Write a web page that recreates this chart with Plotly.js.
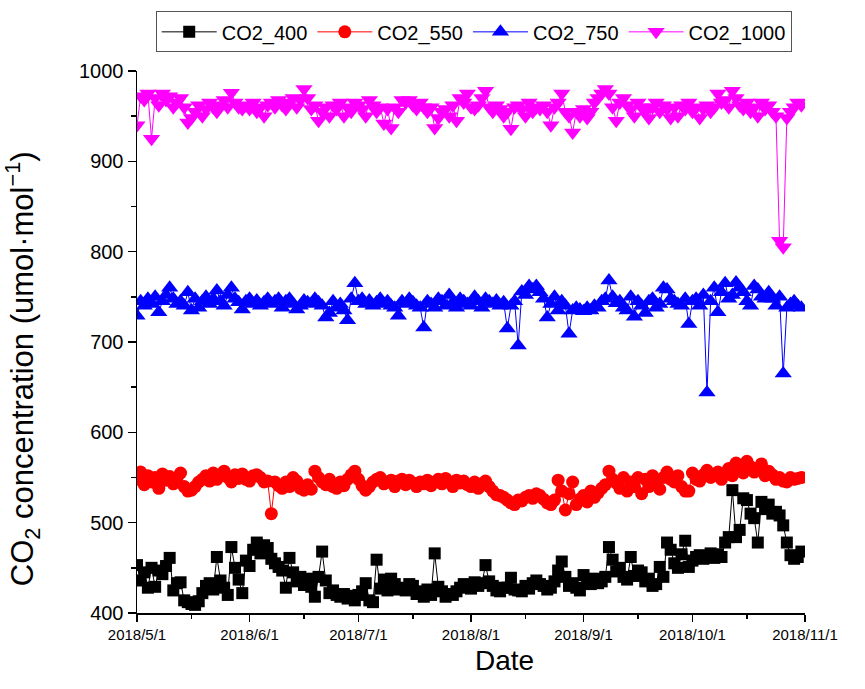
<!DOCTYPE html>
<html>
<head>
<meta charset="utf-8">
<script src="https://cdn.plot.ly/plotly-3.0.1.min.js"></script>
<style>html,body{margin:0;padding:0;background:#fff;}#chart{width:865px;height:689px;}</style>
</head>
<body>
<div id="chart"></div>
<script>
// Daily dates 2018-05-01 .. 2018-10-31
const startDate = '2018-05-01';
const nDays = 184;

const co2_400 = [
453,436,445,428,450,429,447,443,452,461,
425,433,434,414,412,410,409,413,422,430,
433,426,462,436,428,420,473,450,437,422,
458,452,470,478,466,475,472,460,455,451,
447,428,461,445,435,440,431,438,429,418,
440,468,436,422,425,420,418,421,416,419,
414,420,424,433,414,412,459,427,437,425,
438,432,426,428,425,432,430,421,424,418,
426,420,466,429,424,418,421,420,424,428,
432,430,427,434,430,433,453,435,430,425,
424,428,428,439,426,425,424,430,427,433,
436,432,430,426,428,435,447,457,440,430,
433,428,425,442,436,432,438,433,435,440,
473,459,446,450,440,437,462,441,447,445,
435,438,430,432,451,440,478,470,455,450,
465,480,451,458,462,464,460,463,466,461,
465,462,478,484,536,484,492,527,525,510,
505,478,523,515,520,510,512,508,497,478,
464,460,462,468];

const co2_550 = [
548,556,542,552,545,550,538,554,547,551,
543,549,555,540,535,536,540,545,548,552,
546,555,548,553,557,550,545,553,549,554,
548,546,552,553,550,545,546,510,545,541,
538,545,540,550,546,538,536,542,537,557,
550,545,542,548,540,538,545,541,548,553,
557,548,541,536,540,545,548,550,543,545,
547,540,546,548,542,547,544,540,545,543,
547,541,545,548,543,549,545,540,547,544,
546,542,540,545,538,543,546,540,535,531,
530,528,525,522,520,525,524,528,530,527,
532,530,526,522,520,525,547,535,514,532,
545,520,526,530,523,535,528,533,538,542,
557,548,544,538,550,535,545,540,550,532,
548,540,552,545,537,550,556,548,545,552,
540,535,535,555,548,546,553,558,550,552,
556,548,555,560,552,566,558,555,568,562,
556,560,565,552,557,553,548,550,546,545,
550,548,549,550];

const co2_750 = [
729,745,740,748,742,750,733,745,752,760,
748,742,745,740,755,735,748,738,745,750,
742,748,757,745,740,752,760,748,744,736,
745,748,742,746,740,744,748,742,745,748,
738,745,748,742,736,740,746,744,742,748,
744,740,727,732,745,738,742,735,724,748,
765,745,748,742,746,740,744,748,742,745,
740,738,729,745,742,748,744,740,738,716,
745,742,738,748,745,740,752,744,738,748,
745,742,740,750,745,738,748,745,742,746,
740,744,715,740,745,696,756,752,762,758,
762,755,748,727,742,750,735,745,740,709,
735,738,736,734,738,735,740,738,745,748,
768,750,743,745,738,735,750,728,745,740,
732,745,748,738,742,760,758,748,745,742,
740,748,720,745,748,740,752,644,745,760,
733,755,765,748,752,766,760,755,745,740,
762,758,750,748,755,748,740,750,665,738,
742,745,740,738];

const co2_1000 = [
940,972,968,975,925,970,962,975,968,972,
960,965,970,960,943,948,955,962,950,958,
965,960,955,962,968,960,976,965,960,958,
962,958,965,955,960,950,962,965,960,968,
962,958,965,970,960,968,980,970,958,962,
945,955,960,950,962,958,965,950,960,955,
965,962,958,950,968,962,955,960,942,958,
937,960,955,968,965,968,962,958,965,960,
955,960,937,948,955,958,950,962,945,970,
965,975,960,958,962,970,978,960,955,962,
958,950,955,936,960,962,958,950,965,955,
960,958,962,955,940,960,965,975,955,950,
932,955,950,958,948,955,965,970,975,980,
975,960,945,965,970,962,958,950,965,960,
955,948,960,965,955,962,958,948,960,950,
962,958,965,955,960,948,958,962,955,960,
975,965,968,960,978,970,962,958,965,955,
960,950,965,958,962,955,950,812,805,948,
955,960,965,962];

const monthTicks = ['2018-05-01','2018-06-01','2018-07-01','2018-08-01','2018-09-01','2018-10-01','2018-11-01'];
const monthLabels = ['2018/5/1','2018/6/1','2018/7/1','2018/8/1','2018/9/1','2018/10/1','2018/11/1'];
const midMonthTicks = ['2018-05-16','2018-06-16','2018-07-16','2018-08-16','2018-09-16','2018-10-16'];

const dates = [];
{
  const d0 = new Date(startDate + 'T00:00:00Z');
  for (let i = 0; i < nDays; i++) {
    const d = new Date(d0.getTime() + i * 86400000);
    dates.push(d.toISOString().slice(0, 10));
  }
}

function mk(name, y, color, symbol, size) {
  return {
    type: 'scatter', mode: 'lines+markers', name: name, x: dates, y: y,
    line: {color: color, width: 1},
    marker: {color: color, symbol: symbol, size: size, line: {width: 0}}
  };
}

const data = [
  mk('CO2_400', co2_400, '#000000', 'square', 12),
  mk('CO2_550', co2_550, '#ff0000', 'circle', 13),
  mk('CO2_750', co2_750, '#0000ff', 'triangle-up', 15),
  mk('CO2_1000', co2_1000, '#ff00ff', 'triangle-down', 15)
];

const layout = {
  width: 865, height: 689,
  margin: {l: 137, r: 60, t: 70, b: 76},
  paper_bgcolor: '#ffffff', plot_bgcolor: '#ffffff',
  font: {family: '"Liberation Sans", Arial, sans-serif', color: '#000'},
  showlegend: true,
  legend: {
    orientation: 'h', x: 0.028, xanchor: 'left', y: 1.108, yanchor: 'top',
    bordercolor: '#555', borderwidth: 1, font: {size: 20, color: '#000'},
    itemwidth: 55, tracegroupgap: 0
  },
  xaxis: {
    type: 'date', range: ['2018-05-01', '2018-11-01'],
    tickmode: 'array', tickvals: monthTicks, ticktext: monthLabels,
    tickfont: {size: 15}, ticks: 'outside', ticklen: 7, tickwidth: 1.5, tickcolor: '#000',
    minor: {tickmode: 'array', tickvals: midMonthTicks, ticks: 'outside', ticklen: 4, tickwidth: 1.5, tickcolor: '#000', showgrid: false},
    showline: true, linecolor: '#000', linewidth: 1.5, showgrid: false, zeroline: false, mirror: false
  },
  yaxis: {
    range: [400, 1000], tickmode: 'linear', tick0: 400, dtick: 100,
    tickfont: {size: 20}, ticks: 'outside', ticklen: 8, tickwidth: 1.5, tickcolor: '#000',
    minor: {dtick: 50, ticks: 'outside', ticklen: 5, tickwidth: 1.5, tickcolor: '#000', showgrid: false},
    showline: true, linecolor: '#000', linewidth: 1.5, showgrid: false, zeroline: false, mirror: false
  },
  annotations: [
    {
      text: 'Date', xref: 'paper', yref: 'paper', x: 0.55, y: -0.088,
      xanchor: 'center', yanchor: 'middle', showarrow: false, font: {size: 28, color: '#000'}
    },
    {
      text: 'CO<sub>2</sub> concentration (umol·mol<sup>−1</sup>)', xref: 'paper', yref: 'paper',
      x: -0.172, y: 0.45, xanchor: 'center', yanchor: 'middle', textangle: -90,
      showarrow: false, font: {size: 31, color: '#000'}
    }
  ]
};

Plotly.newPlot('chart', data, layout, {displayModeBar: false, staticPlot: true});
</script>
</body>
</html>
